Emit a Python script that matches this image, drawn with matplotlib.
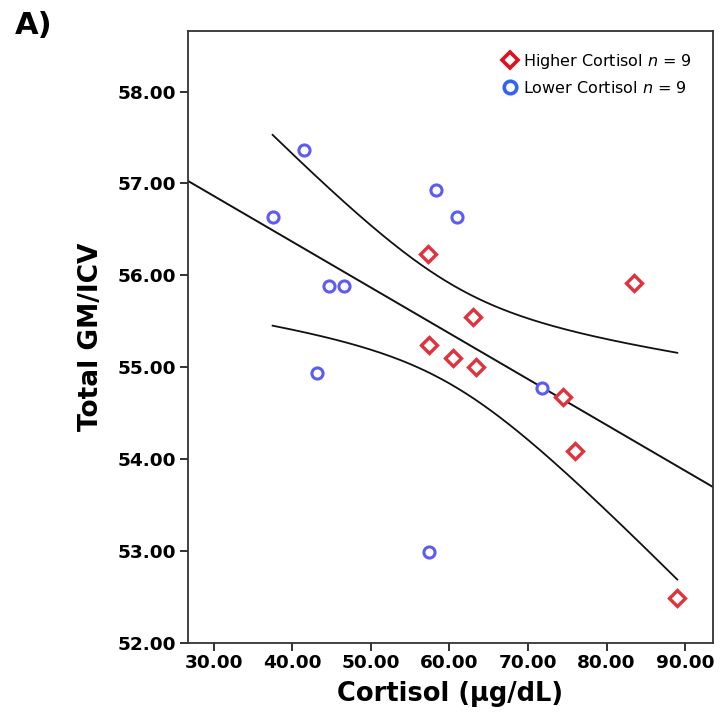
import matplotlib
matplotlib.use("Agg")
import matplotlib.pyplot as plt
from matplotlib.lines import Line2D
import numpy as np

# values
low_x = [41.53, 37.49, 58.28, 61.02, 44.62, 46.52, 43.19, 71.83, 57.45]
low_y = [57.36, 56.63, 56.93, 56.63, 55.88, 55.88, 54.94, 54.77, 52.99]
high_x = [57.33, 83.48, 62.98, 57.45, 60.48, 63.33, 74.44, 75.99, 89.00]
high_y = [56.23, 55.92, 55.54, 55.24, 55.10, 55.00, 54.67, 54.09, 52.49]

x_ticks = [30, 40, 50, 60, 70, 80, 90]
y_ticks = [52, 53, 54, 55, 56, 57, 58]
legend_labels = ["Higher Cortisol $\\it{n}$ = 9", "Lower Cortisol $\\it{n}$ = 9"]

t_crit = 2.1199  # t(0.975, df=16)

plt.rcParams['font.family'] = ['DejaVu Sans']
plt.rcParams['mathtext.fontset'] = 'dejavusans'

fig = plt.figure(figsize=(7.28, 7.12), dpi=100)
ax = fig.add_axes([0.2577, 0.0975, 0.7212, 0.859])

# linear fit with 95% CI of the mean
x_all = np.array(low_x + high_x)
y_all = np.array(low_y + high_y)
n = len(x_all)
b, a = np.polyfit(x_all, y_all, 1)
resid = y_all - (a + b * x_all)
s = np.sqrt(np.sum(resid ** 2) / (n - 2))
sxx = np.sum((x_all - x_all.mean()) ** 2)

xl = (26.67, 93.5)
xf = np.linspace(xl[0], xl[1], 200)
ax.plot(xf, a + b * xf, color="#111111", lw=1.4, zorder=2)

xc = np.linspace(x_all.min(), x_all.max(), 200)
half = t_crit * s * np.sqrt(1.0 / n + (xc - x_all.mean()) ** 2 / sxx)
ax.plot(xc, a + b * xc + half, color="#111111", lw=1.3, zorder=2)
ax.plot(xc, a + b * xc - half, color="#111111", lw=1.3, zorder=2)

ax.plot(low_x, low_y, ls="none", marker="o", ms=8, mfc="white",
        mec="#5c5cf2", mew=2.2, zorder=3)
ax.plot(high_x, high_y, ls="none", marker="D", ms=8.5, mfc="white",
        mec="#e3313c", mew=2.4, zorder=3)

ax.set_xlim(*xl)
ax.set_ylim(52, 58.66)
ax.set_xticks(x_ticks)
ax.set_yticks(y_ticks)
ax.set_xticklabels(["%.2f" % v for v in x_ticks])
ax.set_yticklabels(["%.2f" % v for v in y_ticks])
ax.tick_params(direction="out", length=6, width=1.3, color="#222222",
               labelsize=13.3, pad=2)
for lab in ax.get_xticklabels() + ax.get_yticklabels():
    lab.set_fontweight("bold")
for sp in ax.spines.values():
    sp.set_linewidth(1.3)
    sp.set_color("#333333")

ax.set_xlabel("Cortisol (µg/dL)", fontsize=18.5, fontweight="bold", labelpad=7)
ax.set_ylabel("Total GM/ICV", fontsize=19, fontweight="bold", labelpad=10)

handles = [
    Line2D([], [], ls="none", marker="D", ms=8, mfc="white", mec="#e0101c", mew=2.6),
    Line2D([], [], ls="none", marker="o", ms=9, mfc="white", mec="#3366ee", mew=2.6),
]
ax.legend(handles, legend_labels, loc="upper right", frameon=False,
          fontsize=11.5, handlelength=0.8, handletextpad=0.4,
          labelspacing=0.55, borderaxespad=0.9)

fig.text(0.02, 0.985, "A)", fontsize=22, fontweight="bold", va="top", ha="left")

fig.savefig("out.png", dpi=100)
